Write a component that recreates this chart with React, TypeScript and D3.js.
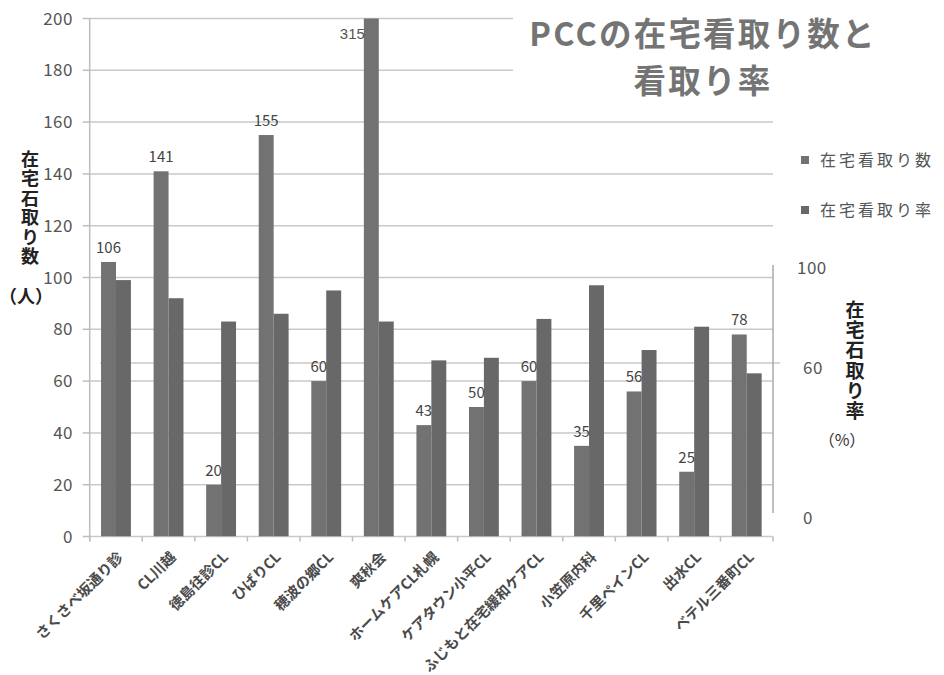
import React from "react";
import * as d3 from "d3";

const categories = [
  "さくさべ坂通り診",
  "CL川越",
  "徳島往診CL",
  "ひばりCL",
  "穂波の郷CL",
  "爽秋会",
  "ホームケアCL札幌",
  "ケアタウン小平CL",
  "ふじもと在宅緩和ケアCL",
  "小笠原内科",
  "千里ペインCL",
  "出水CL",
  "ベテル三番町CL",
];
const deathCounts = [106, 141, 20, 155, 60, 315, 43, 50, 60, 35, 56, 25, 78];
const deathRates = [99, 92, 83, 86, 95, 83, 68, 69, 84, 97, 72, 81, 63];
const leftTicks = [0, 20, 40, 60, 80, 100, 120, 140, 160, 180, 200];
const rightTicks = [0, 60, 100];
const seriesNames = ["在宅看取り数", "在宅看取り率"];
const titleLines = ["PCCの在宅看取り数と", "看取り率"];
const leftTitle = "在宅石取り数";
const leftUnit = "（人）";
const rightTitle = "在宅石取り率";
const rightUnit = "（%）";

const FONT = "'Noto Sans CJK JP', 'Noto Sans', sans-serif";

export default function App() {
  const W = 944;
  const H = 675;
  const x0 = 89.7;
  const x1 = 773;
  const x = d3.scaleBand<string>().domain(categories).range([x0, x1]).paddingInner(0).paddingOuter(0);
  const inner = d3
    .scaleBand<string>()
    .domain(["count", "rate"])
    .range([0, x.bandwidth()])
    .paddingInner(0)
    .paddingOuter(0.76);
  const y = d3.scaleLinear().domain([0, 200]).range([536.5, 18.5]);
  const yR = d3.scaleLinear().domain([0, 100]).range([513, 263]);
  const bw = inner.bandwidth();

  const boundaries = d3.range(categories.length + 1).map((i) => x0 + i * x.step());

  return (
    <svg
      width={W}
      height={H}
      style={{ position: "absolute", left: 0, top: 0, background: "#fff" }}
      fontFamily={FONT}
    >
      <defs>
        <clipPath id="plotClip">
          <rect x={x0} y={y(200)} width={x1 - x0} height={y(0) - y(200)} />
        </clipPath>
      </defs>
      {/* gridlines */}
      {leftTicks.map((t) => (
        <line key={"g" + t} x1={x0} x2={x1} y1={y(t)} y2={y(t)} stroke="#c9c9c9" strokeWidth={1.5} />
      ))}
      {/* secondary 60 line */}
      <line x1={100} x2={780} y1={yR(60)} y2={yR(60)} stroke="#c9c9c9" strokeWidth={1.5} />
      {/* left axis */}
      <line x1={x0} x2={x0} y1={y(200)} y2={y(0) + 5} stroke="#bdbdbd" strokeWidth={1.5} />
      {leftTicks.map((t) => (
        <line key={"lt" + t} x1={x0 - 7} x2={x0} y1={y(t)} y2={y(t)} stroke="#bdbdbd" strokeWidth={1.5} />
      ))}
      {boundaries.map((b, i) => (
        <line key={"bt" + i} x1={b} x2={b} y1={y(0)} y2={y(0) + 5} stroke="#bdbdbd" strokeWidth={1.5} />
      ))}
      {/* bars */}
      <g clipPath="url(#plotClip)">
        {categories.map((c, i) => (
          <g key={c}>
            <rect
              x={(x(c) as number) + (inner("count") as number)}
              y={y(deathCounts[i])}
              width={bw}
              height={y(0) - y(deathCounts[i])}
              fill="#727272"
            />
            <rect
              x={(x(c) as number) + (inner("rate") as number)}
              y={y(deathRates[i])}
              width={bw}
              height={y(0) - y(deathRates[i])}
              fill="#686868"
            />
          </g>
        ))}
      </g>
      {/* data labels */}
      {categories.map((c, i) => {
        const v = deathCounts[i];
        const bx = (x(c) as number) + (inner("count") as number);
        if (v > 200) {
          return (
            <text key={"dl" + c} x={bx + 1} y={y(200) + 20} textAnchor="end" fontSize={15} fill="#555" fontFamily="'Liberation Sans Narrow', 'Liberation Sans', sans-serif">
              {v}
            </text>
          );
        }
        return (
          <text key={"dl" + c} x={bx + bw / 2} y={y(v) - 9} textAnchor="middle" fontSize={15} fill="#444">
            {v}
          </text>
        );
      })}
      {/* left tick labels */}
      {leftTicks.map((t) => (
        <text key={"tl" + t} x={73} y={y(t)} dy="0.36em" textAnchor="end" fontSize={17} fill="#555" letterSpacing={0.5}>
          {t}
        </text>
      ))}
      {/* right axis */}
      <line x1={x1} x2={x1} y1={yR(100) + 2} y2={yR(0)} stroke="#aaaaaa" strokeWidth={1.5} />
      {rightTicks.map((t) => (
        <text key={"rt" + t} x={t === 100 ? 797 : 803} y={yR(t) + 5} dy="0.36em" fontSize={17} fill="#555" letterSpacing={0.5}>
          {t}
        </text>
      ))}
      {/* x labels */}
      {categories.map((c) => {
        const cx = (x(c) as number) + x.bandwidth() / 2 + 3;
        const cy = 553;
        return (
          <text
            key={"xl" + c}
            transform={`translate(${cx},${cy}) rotate(-45)`}
            textAnchor="end"
            dy="0.5em"
            fontSize={14.5}
            fontWeight="bold"
            fill="#4a4a4a"
          >
            {c}
          </text>
        );
      })}
      {/* left axis title (vertical) */}
      <text
        x={30}
        y={150}
        writingMode="vertical-rl"
        fontSize={18}
        fontWeight="bold"
        fill="#222"
        letterSpacing={1.5}
      >
        {leftTitle}
      </text>
      <text x={26} y={297} dy="0.36em" textAnchor="middle" fontSize={18} fontWeight="bold" fill="#222">
        {leftUnit}
      </text>
      {/* right axis title (vertical) */}
      <text
        x={855}
        y={300}
        writingMode="vertical-rl"
        fontSize={19}
        fontWeight="bold"
        fill="#222"
        letterSpacing={1.3}
      >
        {rightTitle}
      </text>
      <text x={842} y={440} dy="0.36em" textAnchor="middle" fontSize={16} fill="#333">
        {rightUnit}
      </text>
      {/* title */}
      <rect x={513} y={0} width={300} height={105} fill="#fff" />
      {titleLines.map((t, i) => (
        <text
          key={"tt" + i}
          x={703}
          y={34 + i * 47.5}
          dy="0.36em"
          textAnchor="middle"
          fontSize={32.5}
          fontWeight="bold"
          fill="#747474"
          letterSpacing={2.2}
        >
          {t}
        </text>
      ))}
      {/* legend */}
      {seriesNames.map((s, i) => (
        <g key={"lg" + s} transform={`translate(0,${160 + i * 50})`}>
          <rect x={801} y={-4} width={8} height={8} fill={i === 0 ? "#727272" : "#686868"} />
          <text x={820} y={0} dy="0.36em" fontSize={16} fill="#555" letterSpacing={3}>
            {s}
          </text>
        </g>
      ))}
    </svg>
  );
}
